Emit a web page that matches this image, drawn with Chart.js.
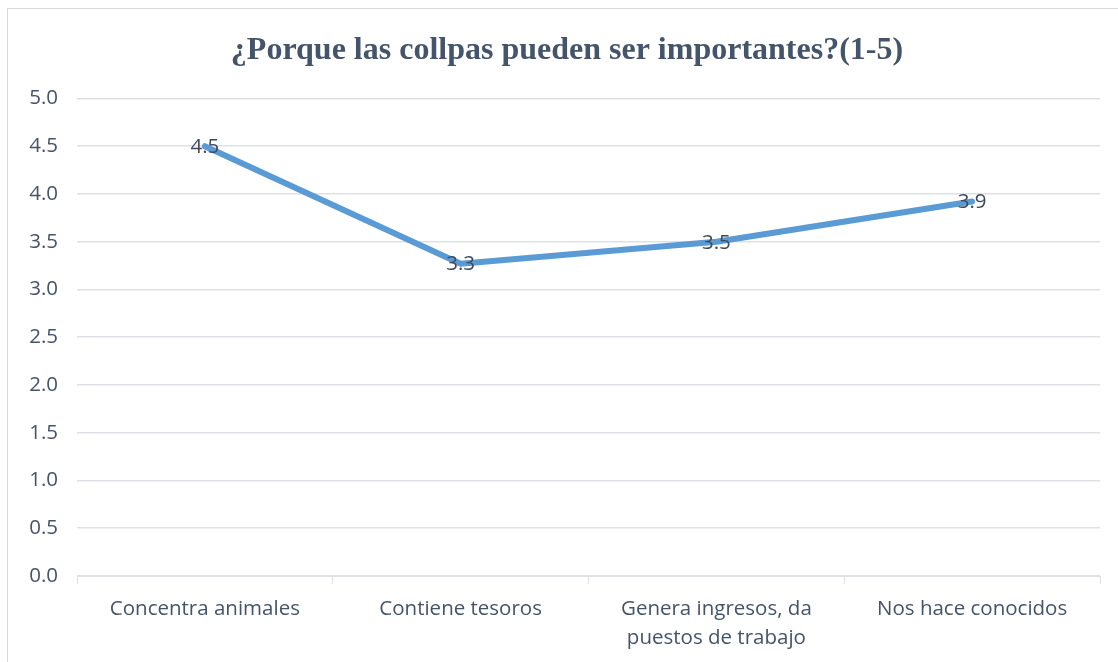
<!DOCTYPE html>
<html>
<head>
<meta charset="utf-8">
<script src="https://cdn.jsdelivr.net/npm/chart.js@4/dist/chart.umd.min.js"></script>
<style>
  html, body { margin: 0; padding: 0; background: #fff; overflow: hidden; }
  #frame { position: absolute; left: 7px; top: 8px; width: 1200px; height: 700px; border: 1px solid #d9d9d9; }
  #chart { position: absolute; left: 0; top: 0; }
</style>
</head>
<body>
<div id="frame"></div>
<canvas id="chart" width="1118" height="662"></canvas>
<script>
// chart data
const categories = [
    'Concentra animales',
    'Contiene tesoros',
    ['Genera ingresos, da', 'puestos de trabajo'],
    'Nos hace conocidos'
];
const scores = [4.5, 3.27, 3.5, 3.92];
const chartTitle = '¿Porque las collpas pueden ser importantes?(1-5)';

const textColor = '#44546a';
const gridColor = '#dde1e6';

// value labels drawn centred on each point
const valueLabels = {
    id: 'valueLabels',
    afterDatasetsDraw(chart) {
        const ctx = chart.ctx;
        const meta = chart.getDatasetMeta(0);
        ctx.save();
        ctx.font = '20.5px "Open Sans"';
        ctx.fillStyle = '#404a5a';
        ctx.textAlign = 'center';
        ctx.textBaseline = 'middle';
        meta.data.forEach((pt, i) => {
            ctx.fillText(scores[i].toFixed(1), pt.x, pt.y + 1);
        });
        ctx.restore();
    }
};

// centre the title on the frame rather than on the padded layout
const titleShift = {
    id: 'titleShift',
    afterLayout(chart) {
        const t = chart.titleBlock;
        if (t) { t.left += 17; t.right += 17; }
    }
};

new Chart(document.getElementById('chart'), {
    type: 'line',
    data: {
        labels: categories,
        datasets: [{
            data: scores,
            borderColor: '#5b9bd5',
            borderWidth: 6,
            borderCapStyle: 'round',
            borderJoinStyle: 'round',
            pointRadius: 0,
            tension: 0
        }]
    },
    options: {
        responsive: false,
        animation: false,
        layout: { padding: { left: 0, right: 18, top: 0, bottom: 0 } },
        plugins: {
            legend: { display: false },
            tooltip: { enabled: false },
            title: {
                display: true,
                text: chartTitle,
                color: textColor,
                font: { family: '"Liberation Serif", "Times New Roman", serif', size: 32, weight: 'bold' },
                padding: { top: 32, bottom: 28 }
            }
        },
        scales: {
            x: {
                offset: true,
                grid: {
                    offset: true,
                    drawOnChartArea: false,
                    drawTicks: true,
                    tickLength: 8,
                    color: gridColor
                },
                border: { color: gridColor, width: 1 },
                ticks: {
                    color: textColor,
                    font: { family: '"Open Sans"', size: 20.5, lineHeight: 1.45 },
                    padding: 10,
                    maxRotation: 0,
                    autoSkip: false
                },
                afterFit(scale) { scale.height = 86; }
            },
            y: {
                min: 0,
                max: 5,
                ticks: {
                    stepSize: 0.5,
                    color: textColor,
                    font: { family: '"Open Sans"', size: 20.5 },
                    padding: 19,
                    callback: v => v.toFixed(1)
                },
                grid: { color: gridColor, drawTicks: false, lineWidth: 1.5 },
                border: { display: false },
                afterFit(scale) { scale.width = 77; }
            }
        }
    },
    plugins: [valueLabels, titleShift]
});
</script>
</body>
</html>
